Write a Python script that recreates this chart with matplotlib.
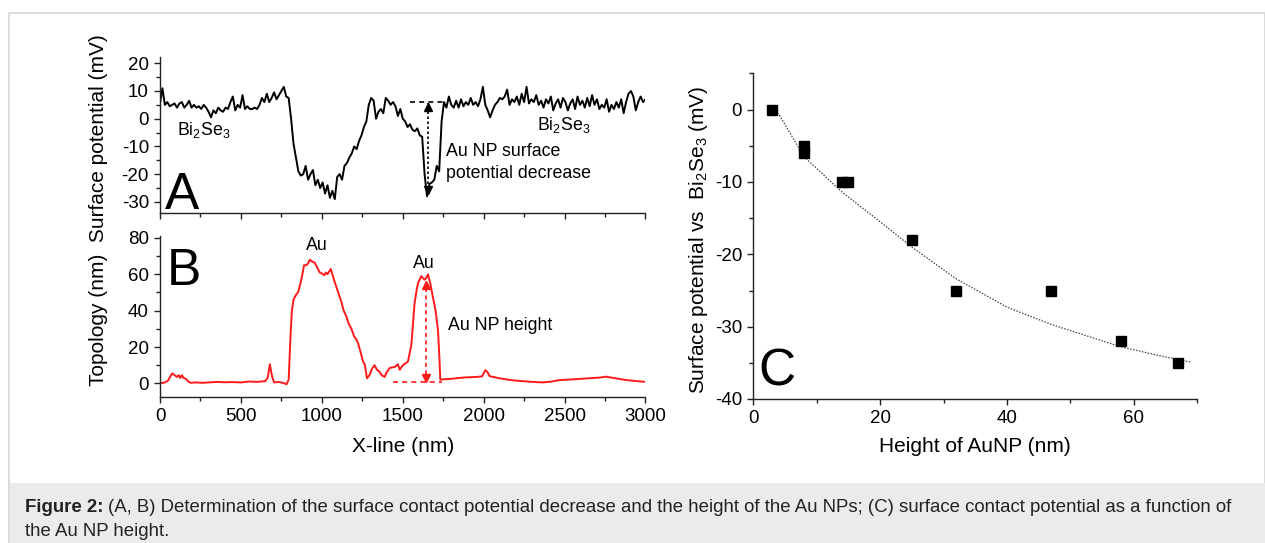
import numpy as np
import matplotlib
matplotlib.use("Agg")
import matplotlib.pyplot as plt
from matplotlib.ticker import MultipleLocator
from matplotlib.patches import Rectangle

plt.rcParams['font.family'] = ['Liberation Sans', 'DejaVu Sans']
plt.rcParams['mathtext.fontset'] = 'custom'
plt.rcParams['mathtext.rm'] = 'Liberation Sans'
plt.rcParams['mathtext.it'] = 'Liberation Sans:italic'
plt.rcParams['axes.unicode_minus'] = False

# ---- data ----
# (A) surface potential profile, one value every 15 nm from 0 to 3000 nm
xline_step = 15
potential_mV = [
    5.5, 11, 5, 6, 4.5, 5, 5.5, 4, 5.5, 6,
    4, 5, 6.5, 4, 5, 4, 4.5, 3.5, 5, 4,
    2.5, 0.5, 3, 2, 4, 3, 2.5, 4, 3.5, 6,
    8, 3, 5, 4, 8.5, 3.5, 4.5, 3.5, 3.5, 4,
    3.5, 5, 7.5, 6, 9, 6, 7.5, 9.5, 7, 8.5,
    10, 11.5, 8, 7.5, 0, -9, -14, -19, -20.5, -20,
    -17, -22, -20, -18.5, -24, -22, -25, -23, -27, -24,
    -28.5, -26, -29, -21, -20, -22, -17, -16, -14, -12.5,
    -10, -11, -8, -6, -3, -1, 5, 7.5, 6.5, 0,
    2.5, 3.5, 2, 7.5, 6.5, 5, 6, 4.5, 1, 3.5,
    0, -1, -3, -2, -4, -4.5, -3.5, -6, -6.5, -20,
    -28, -23.5, -23, -22, -17, -19, -1, 6, 4, 8,
    5, 4, 6.5, 4, 7, 4.5, 6, 5, 7.5, 5,
    6, 4.5, 7, 11.5, 5, 3, 0.5, 3, 5, 6,
    7.5, 7, 8, 10.5, 5, 7, 6, 8, 5, 9,
    6, 11.5, 5.5, 7, 6, 8.5, 5, 6.5, 4, 7,
    5.5, 8, 3, 5.5, 7, 4, 7.5, 6, 3, 5.5,
    7, 3.5, 8, 5, 6.5, 4, 7.5, 4.5, 8.5, 5,
    7, 3.5, 5, 4, 7, 2.5, 5, 3.5, 6, 4,
    7, 2, 6, 9, 10, 8, 3, 6, 8, 6,
    7,
]
potential_x = np.arange(len(potential_mV)) * xline_step

# (B) topology profile
topo_x = [0, 30, 50, 65, 75, 90, 105, 115, 125, 135, 145, 160, 175, 190,
          220, 260, 300, 350, 400, 450, 500, 550, 600, 650, 665, 679, 692,
          705, 730, 760, 782, 795, 808, 815, 825, 840, 855, 868, 880, 890,
          905, 915, 926, 940, 955, 970, 987, 1000, 1015, 1025, 1035, 1045,
          1055, 1065, 1075, 1090, 1105, 1120, 1135, 1152, 1165, 1183, 1200,
          1215, 1224, 1240, 1255, 1265, 1279, 1295, 1310, 1326, 1340, 1355,
          1370, 1388, 1400, 1420, 1450, 1470, 1481, 1501, 1532, 1553, 1565,
          1573, 1585, 1594, 1614, 1635, 1645, 1656, 1670, 1685, 1703, 1718,
          1726, 1732, 1748, 1800, 1850, 1892, 1950, 1990, 2011, 2025, 2036,
          2060, 2098, 2150, 2200, 2270, 2365, 2420, 2470, 2550, 2650, 2720,
          2756, 2800, 2880, 2950, 3000]
topo_nm = [0, 0.5, 1.5, 4, 5.5, 4.5, 3.5, 4.5, 3, 4.5, 3, 2.5, 1, 0.3,
           0.5, 0.3, 0.5, 0.8, 0.6, 0.7, 0.5, 1, 0.8, 1.2, 3, 10.5, 4,
           0.5, 0.8, 0.3, -0.5, 2, 29, 40, 46, 48.6, 50.5, 55, 60, 65,
           65, 66, 68, 67, 66.5, 64, 61, 60.5, 59.5, 61, 60, 61.5,
           63, 60, 57, 53, 49, 45, 40, 36.7, 33, 30, 25.7,
           24, 22, 17, 12, 10.5, 2.8, 4.6, 8, 10, 7.5, 6.5,
           4.5, 3.5, 6, 8.5, 9, 10.5, 7.5, 10, 12, 21, 35,
           44, 51, 55, 59, 57, 58, 60, 55, 48, 40, 29,
           15, 2, 2.2, 2.5, 3, 3.3, 3.5, 3.8, 7.3, 6, 4,
           3.5, 2.8, 2, 1.5, 1, 0.5, 1, 1.8, 2.2, 2.8, 3.2,
           3.7, 3, 1.8, 1.2, 0.8]

# (C) surface potential vs height
height_nm = [3, 8, 8, 14, 15, 25, 32, 47, 58, 67]
sp_vs_bise_mV = [0, -5, -6, -10, -10, -18, -25, -25, -32, -35]
fit_x = [3, 4, 8, 14, 20, 25, 32, 40, 47, 58, 64, 69]
fit_y = [0, -0.6, -6.5, -11.4, -15.5, -19, -23.4, -27.3, -29.7, -32.8, -34, -34.9]

# measurement markers
a_step_x = [1545, 1760]
a_step_y = [6, 6]
a_arrow_x = 1655
a_arrow_y = [-27, 5.5]
b_base_x = [1440, 1740]
b_base_y = [1, 1]
b_arrow_x = 1645
b_arrow_y = [1, 56]

W, H = 1265, 543
fig = plt.figure(figsize=(W / 100, H / 100), dpi=100)


def px_rect(l, t, r, b):
    return [l / W, 1 - b / H, (r - l) / W, (b - t) / H]


# frame and caption background
fig.patches.append(Rectangle((9 / W, 0), 1 - 9 / W, 1 - 13 / H, transform=fig.transFigure,
                             fill=False, edgecolor='#d6d6d6', lw=1.2))
fig.patches.append(Rectangle((10 / W, 0), 1, (H - 483) / H, transform=fig.transFigure,
                             facecolor='#ebebeb', edgecolor='none'))

TICK = 13.5
LAB = 15
ANN = 12.8


def style(ax):
    for s in ('top', 'right'):
        ax.spines[s].set_visible(False)
    for s in ('left', 'bottom'):
        ax.spines[s].set_linewidth(1.0)
        ax.spines[s].set_color('#222222')
    ax.tick_params(which='major', direction='out', length=4.5, width=1.0,
                   labelsize=TICK, pad=3.5, color='#222222')
    ax.tick_params(which='minor', direction='out', length=3, width=1.0, color='#222222')


axA = fig.add_axes(px_rect(160, 56.6, 645.5, 213))
axB = fig.add_axes(px_rect(160, 236.5, 645.5, 396.8))
axC = fig.add_axes(px_rect(753.3, 73.5, 1197.3, 399))
for ax in (axA, axB, axC):
    style(ax)

# ---- A ----
axA.plot(potential_x, potential_mV, color='black', lw=1.4)
axA.set_xlim(0, 3000)
axA.set_ylim(-34.0, 22.4)
axA.xaxis.set_major_locator(MultipleLocator(500))
axA.xaxis.set_minor_locator(MultipleLocator(250))
axA.yaxis.set_major_locator(MultipleLocator(10))
axA.yaxis.set_minor_locator(MultipleLocator(5))
axA.set_yticks([-30, -20, -10, 0, 10, 20])
axA.tick_params(axis='x', labelbottom=False)
axA.plot(a_step_x, a_step_y, color='black', lw=1.2, ls=(0, (3, 2.5)))
axA.plot([a_arrow_x, a_arrow_x], a_arrow_y, color='black', lw=1.2, ls=(0, (1.5, 1.5)))
axA.plot(a_arrow_x, a_arrow_y[1] - 1.2, marker='^', ms=5.5, color='black')
axA.plot(a_arrow_x, a_arrow_y[0] + 1.2, marker='v', ms=5.5, color='black')
axA.text(30, -32.5, 'A', fontsize=37, ha='left', va='baseline')
axA.text(108, -5.9, 'Bi$_2$Se$_3$', fontsize=ANN, ha='left', va='baseline')
axA.text(2331, -3.9, 'Bi$_2$Se$_3$', fontsize=ANN, ha='left', va='baseline')
axA.text(1765, -13.6, 'Au NP surface', fontsize=ANN, ha='left', va='baseline')
axA.text(1765, -21.4, 'potential decrease', fontsize=ANN, ha='left', va='baseline')

# ---- B ----
axB.plot(topo_x, topo_nm, color='#ff1a1a', lw=1.4)
axB.set_xlim(0, 3000)
axB.set_ylim(-7.4, 80.8)
axB.xaxis.set_major_locator(MultipleLocator(500))
axB.xaxis.set_minor_locator(MultipleLocator(250))
axB.yaxis.set_major_locator(MultipleLocator(20))
axB.yaxis.set_minor_locator(MultipleLocator(10))
axB.plot(b_base_x, b_base_y, color='#ff1a1a', lw=1.2, ls=(0, (3, 2.5)))
axB.plot([b_arrow_x, b_arrow_x], b_arrow_y, color='#ff1a1a', lw=1.2, ls=(0, (2.5, 2)))
axB.plot(b_arrow_x, b_arrow_y[1] - 2, marker='^', ms=5.5, color='#ff1a1a')
axB.plot(b_arrow_x, b_arrow_y[0] + 2, marker='v', ms=5.5, color='#ff1a1a')
axB.text(41, 54, 'B', fontsize=37, ha='left', va='baseline')
axB.text(971, 76, 'Au', fontsize=ANN, ha='center', va='center')
axB.text(1630, 66, 'Au', fontsize=ANN, ha='center', va='center')
axB.text(1780, 32, 'Au NP height', fontsize=ANN, ha='left', va='center')

# ---- C ----
axC.plot(fit_x, fit_y, color='#444444', lw=0.9, ls=(0, (1.2, 1.2)))
axC.plot(height_nm, sp_vs_bise_mV, ls='none', marker='s', ms=7.5, color='black')
axC.set_xlim(0, 70)
axC.set_ylim(-40, 5)
axC.xaxis.set_major_locator(MultipleLocator(20))
axC.xaxis.set_minor_locator(MultipleLocator(10))
axC.yaxis.set_major_locator(MultipleLocator(10))
axC.yaxis.set_minor_locator(MultipleLocator(5))
axC.text(0.8, -38.1, 'C', fontsize=37, ha='left', va='baseline')

# axis labels
fig.text(99 / W, 1 - 210 / H, 'Topology (nm)  Surface potential (mV)', rotation=90,
         ha='center', va='center', fontsize=LAB)
fig.text(402.7 / W, 1 - 447 / H, 'X-line (nm)', ha='center', va='center', fontsize=LAB)
fig.text(975.3 / W, 1 - 446 / H, 'Height of AuNP (nm)', ha='center', va='center', fontsize=LAB)
fig.text(698 / W, 1 - 240 / H, 'Surface potential vs  Bi$_2$Se$_3$ (mV)', rotation=90,
         ha='center', va='center', fontsize=LAB)

# caption
CAP = 13.45
cap_b = fig.text(25 / W, 1 - 508 / H, 'Figure 2:', fontsize=CAP, fontweight='bold',
                 ha='left', va='center', color='#222222')
fig.canvas.draw()
bb = cap_b.get_window_extent()
fig.text((bb.x1 + 4) / W, 1 - 508 / H,
         '(A, B) Determination of the surface contact potential decrease and the height '
         'of the Au NPs; (C) surface contact potential as a function of',
         fontsize=CAP, ha='left', va='center', color='#222222')
fig.text(25 / W, 1 - 531 / H, 'the Au NP height.', fontsize=CAP, ha='left', va='center',
         color='#222222')

fig.savefig('out.png', dpi=100)
